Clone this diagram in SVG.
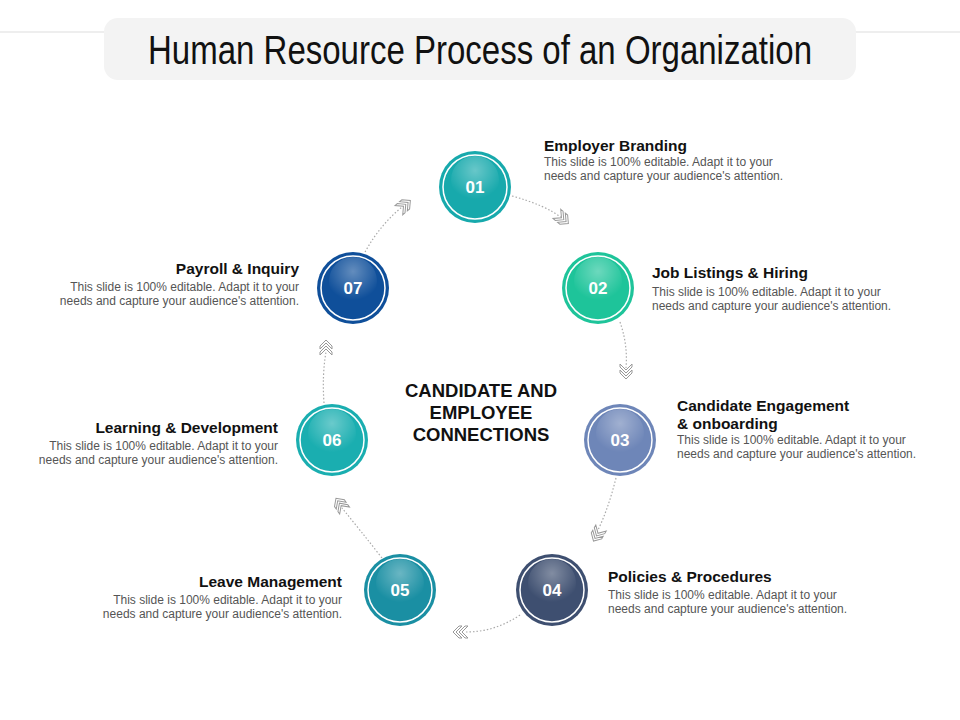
<svg xmlns="http://www.w3.org/2000/svg" width="960" height="720" viewBox="0 0 960 720">
<defs>
<style>
.t{font-family:"Liberation Sans",Arial,sans-serif}
.h{font-size:15.5px;font-weight:bold;fill:#111}
.d{font-size:12px;fill:#555}
.n{font-size:17px;font-weight:bold;fill:#fff;text-anchor:middle}
.ring{fill:none;stroke:#fff;stroke-width:1.5}
.arc{fill:none;stroke:#aaa;stroke-width:1.2;stroke-dasharray:1.5 2}
.chev{fill:#fff;stroke:#999;stroke-width:1}
</style>
<radialGradient id="gl" cx="0.5" cy="0.3" r="0.6"><stop offset="0" stop-color="#fff" stop-opacity="0.35"/><stop offset="1" stop-color="#fff" stop-opacity="0"/></radialGradient>
<g id="cv"><path class="chev" d="M-8,-6 L-5,-6 L1,0 L-5,6 L-8,6 L-2,0 Z M-2,-6 L1,-6 L7,0 L1,6 L-2,6 L4,0 Z"/></g>
</defs>
<rect width="960" height="720" fill="#fff"/>
<line x1="0" y1="32" x2="960" y2="32" stroke="#ddd"/>
<rect x="104" y="18" width="752" height="62" rx="14" fill="#f3f3f3"/>
<text class="t" x="480" y="64" text-anchor="middle" font-size="40" textLength="664" lengthAdjust="spacingAndGlyphs" fill="#111">Human Resource Process of an Organization</text>
<g id="connectors">
<path class="arc" d="M512,196 Q545,205 562,218"/>
<path class="arc" d="M620,322 Q628,345 626,368"/>
<path class="arc" d="M616,478 Q608,510 597,532"/>
<path class="arc" d="M520,615 Q495,632 466,632"/>
<path class="arc" d="M382,558 Q360,530 342,508"/>
<path class="arc" d="M324,403 Q322,375 326,352"/>
<path class="arc" d="M365,252 Q380,225 402,207"/>
<use href="#cv" transform="translate(563,219) rotate(40)"/>
<use href="#cv" transform="translate(626,372) rotate(90)"/>
<use href="#cv" transform="translate(597,535) rotate(120)"/>
<use href="#cv" transform="translate(460,632) rotate(180)"/>
<use href="#cv" transform="translate(340,504) rotate(-125)"/>
<use href="#cv" transform="translate(326,347) rotate(-90)"/>
<use href="#cv" transform="translate(405,205) rotate(-40)"/>
</g>
<g id="n01"><circle cx="475" cy="187" r="36" fill="#17a9ac"/><circle class="ring" cx="475" cy="187" r="32"/><circle cx="475" cy="180" r="24" fill="url(#gl)"/><text class="t n" x="475" y="193">01</text></g>
<g id="n02"><circle cx="598" cy="288" r="36" fill="#1ec49a"/><circle class="ring" cx="598" cy="288" r="32"/><circle cx="598" cy="281" r="24" fill="url(#gl)"/><text class="t n" x="598" y="294">02</text></g>
<g id="n03"><circle cx="620" cy="440" r="36" fill="#6e86b8"/><circle class="ring" cx="620" cy="440" r="32"/><circle cx="620" cy="433" r="24" fill="url(#gl)"/><text class="t n" x="620" y="446">03</text></g>
<g id="n04"><circle cx="552" cy="590" r="36" fill="#3e4f70"/><circle class="ring" cx="552" cy="590" r="32"/><circle cx="552" cy="583" r="24" fill="url(#gl)"/><text class="t n" x="552" y="596">04</text></g>
<g id="n05"><circle cx="400" cy="590" r="36" fill="#1a8fa3"/><circle class="ring" cx="400" cy="590" r="32"/><circle cx="400" cy="583" r="24" fill="url(#gl)"/><text class="t n" x="400" y="596">05</text></g>
<g id="n06"><circle cx="332" cy="440" r="36" fill="#1aaeb0"/><circle class="ring" cx="332" cy="440" r="32"/><circle cx="332" cy="433" r="24" fill="url(#gl)"/><text class="t n" x="332" y="446">06</text></g>
<g id="n07"><circle cx="353" cy="288" r="36" fill="#0f4f9a"/><circle class="ring" cx="353" cy="288" r="32"/><circle cx="353" cy="281" r="24" fill="url(#gl)"/><text class="t n" x="353" y="294">07</text></g>
<g id="center" class="t" font-size="18.5" font-weight="bold" fill="#111" text-anchor="middle">
<text x="481" y="397">CANDIDATE AND</text><text x="481" y="419">EMPLOYEE</text><text x="481" y="441">CONNECTIONS</text></g>
<g id="l01" class="t"><text class="h" x="544" y="151">Employer Branding</text><text class="d" x="544" y="166">This slide is 100% editable. Adapt it to your</text><text class="d" x="544" y="180">needs and capture your audience's attention.</text></g>
<g id="l02" class="t"><text class="h" x="652" y="278">Job Listings &amp; Hiring</text><text class="d" x="652" y="296">This slide is 100% editable. Adapt it to your</text><text class="d" x="652" y="310">needs and capture your audience's attention.</text></g>
<g id="l03" class="t"><text class="h" x="677" y="411">Candidate Engagement</text><text class="h" x="677" y="429">&amp; onboarding</text><text class="d" x="677" y="444">This slide is 100% editable. Adapt it to your</text><text class="d" x="677" y="458">needs and capture your audience's attention.</text></g>
<g id="l04" class="t"><text class="h" x="608" y="582">Policies &amp; Procedures</text><text class="d" x="608" y="599">This slide is 100% editable. Adapt it to your</text><text class="d" x="608" y="613">needs and capture your audience's attention.</text></g>
<g id="l05" class="t" text-anchor="end"><text class="h" x="342" y="587">Leave Management</text><text class="d" x="342" y="604">This slide is 100% editable. Adapt it to your</text><text class="d" x="342" y="618">needs and capture your audience's attention.</text></g>
<g id="l06" class="t" text-anchor="end"><text class="h" x="278" y="433">Learning &amp; Development</text><text class="d" x="278" y="450">This slide is 100% editable. Adapt it to your</text><text class="d" x="278" y="464">needs and capture your audience's attention.</text></g>
<g id="l07" class="t" text-anchor="end"><text class="h" x="299" y="274">Payroll &amp; Inquiry</text><text class="d" x="299" y="291">This slide is 100% editable. Adapt it to your</text><text class="d" x="299" y="305">needs and capture your audience's attention.</text></g>
</svg>
